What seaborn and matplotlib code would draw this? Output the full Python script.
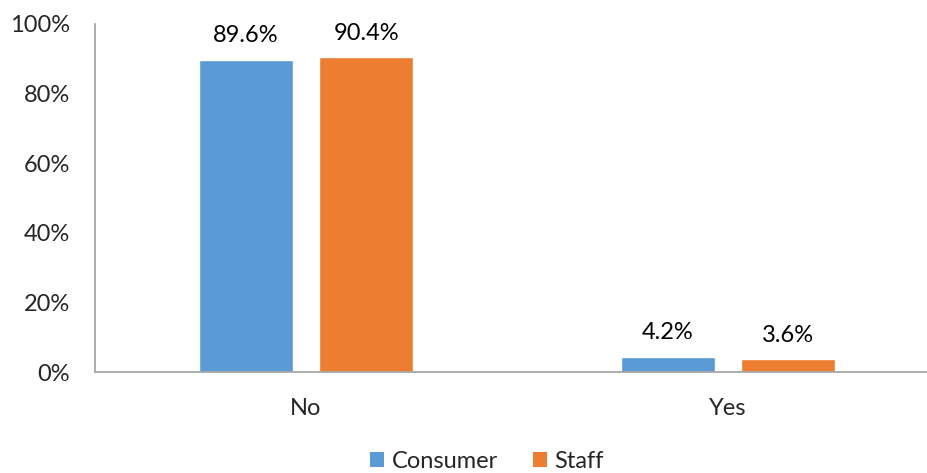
import matplotlib
matplotlib.use("Agg")
import matplotlib.pyplot as plt
import seaborn as sns
import pandas as pd
from matplotlib.patches import Patch

categories = ["No", "Yes"]
series = ["Consumer", "Staff"]
consumer = [89.6, 4.2]
staff = [90.4, 3.6]
colors = ["#5B9BD5", "#ED7D31"]

df = pd.DataFrame({
    "cat": categories * 2,
    "series": [series[0]] * 2 + [series[1]] * 2,
    "val": consumer + staff,
})

sns.set_theme(style="white")
plt.rcParams["font.family"] = ["Lato", "DejaVu Sans"]

fig = plt.figure(figsize=(9.27, 4.73), dpi=100)
ax = fig.add_axes([95 / 927, 101 / 473, 844 / 927, 348 / 473])
sns.barplot(data=df, x="cat", y="val", hue="series", order=categories,
            hue_order=series, palette=colors, width=0.57, gap=0.215,
            saturation=1, ax=ax, legend=False)

for cont in ax.containers:
    ax.bar_label(cont, labels=[f"{v:.1f}%" for v in cont.datavalues],
                 padding=10, fontsize=17, color="#000000")

ax.set_xlim(-0.5, 1.5)
ax.set_ylim(0, 100)
ax.set_yticks([0, 20, 40, 60, 80, 100])
ax.set_yticklabels([f"{t}%" for t in [0, 20, 40, 60, 80, 100]], fontsize=17)
ax.tick_params(axis="x", labelsize=17, pad=19, length=0)
ax.tick_params(axis="y", pad=18, length=0)
ax.set_xlabel("")
ax.set_ylabel("")
for s in ["top", "right"]:
    ax.spines[s].set_visible(False)
for s in ["left", "bottom"]:
    ax.spines[s].set_color("#A6A6A6")
    ax.spines[s].set_linewidth(1.3)

handles = [Patch(facecolor=c, edgecolor="none") for c in colors]
fig.legend(handles, series, loc="center", bbox_to_anchor=(487 / 927, 1 - 461 / 473),
           ncol=2, frameon=False, fontsize=17, handlelength=0.6, handleheight=0.6,
           handletextpad=0.3, columnspacing=1.5)

fig.savefig("out.png", dpi=100)
